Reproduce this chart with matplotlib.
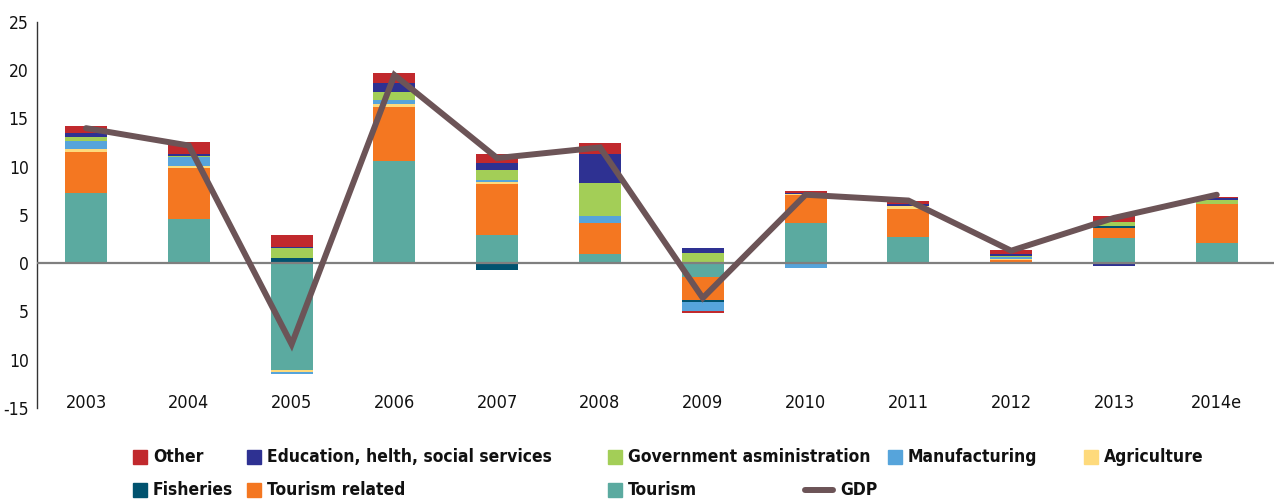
import matplotlib
matplotlib.use("Agg")
import matplotlib.pyplot as plt
from matplotlib.patches import Rectangle
from matplotlib.lines import Line2D
import numpy as np

plt.rcParams['font.family'] = ['Liberation Sans Narrow', 'DejaVu Sans']
plt.rcParams['font.stretch'] = 'condensed'

years = ['2003', '2004', '2005', '2006', '2007', '2008', '2009', '2010', '2011', '2012', '2013', '2014e']

tourism         = [7.3, 4.6, -11.05, 10.6, 2.9, 1.0, -1.4, 4.15, 2.7, 0.0, 2.62, 2.05]
tourism_related = [4.2, 5.3, 0.0, 5.6, 5.35, 3.2, -2.4, 2.9, 2.95, 0.35, 1.07, 4.13]
fisheries       = [0.0, 0.0, 0.5, 0.0, -0.7, 0.0, -0.17, 0.0, 0.0, 0.0, 0.13, 0.0]
agriculture     = [0.3, 0.2, -0.2, 0.3, 0.2, 0.0, 0.0, 0.17, 0.24, 0.1, 0.0, 0.0]
manufacturing   = [0.9, 0.95, -0.25, 0.4, 0.2, 0.7, -1.03, -0.5, 0.0, 0.17, 0.0, 0.0]
government      = [0.35, 0.1, 1.03, 0.85, 1.05, 3.45, 1.1, 0.0, 0.0, 0.14, 0.48, 0.34]
education       = [0.45, 0.2, 0.2, 0.9, 0.7, 3.0, 0.52, 0.07, 0.2, 0.24, -0.3, 0.24]
other           = [0.75, 1.2, 1.15, 1.05, 0.95, 1.15, -0.2, 0.24, 0.41, 0.4, 0.62, 0.14]
gdp             = [14.0, 12.2, -8.4, 19.5, 10.9, 12.0, -3.6, 7.1, 6.5, 1.3, 4.7, 7.1]

ytick_values = [25, 20, 15, 10, 5, 0, -5, -10, -15]
ytick_labels = ['25', '20', '15', '10', '5', '0', '5', '10', '-15']

series = [
    ('Tourism', tourism, '#5BAAA0'),
    ('Tourism related', tourism_related, '#F47721'),
    ('Fisheries', fisheries, '#01536F'),
    ('Agriculture', agriculture, '#FEDA7C'),
    ('Manufacturing', manufacturing, '#56A4DB'),
    ('Government asministration', government, '#A3CE57'),
    ('Education, helth, social services', education, '#2E3192'),
    ('Other', other, '#C1292D'),
]
gdp_color = '#6C5457'

fig = plt.figure(figsize=(12.74, 5.01), dpi=100)
ax = fig.add_axes([37/1274, 1-408/501, 1-37/1274, (408-22)/501])

x = np.arange(len(years))
pos_bottom = np.zeros(len(years))
neg_bottom = np.zeros(len(years))
width = 0.41
for name, vals, col in series:
    v = np.array(vals, dtype=float)
    bottoms = np.where(v >= 0, pos_bottom, neg_bottom)
    ax.bar(x, v, width, bottom=bottoms, color=col, linewidth=0, zorder=2)
    pos_bottom = pos_bottom + np.where(v > 0, v, 0)
    neg_bottom = neg_bottom + np.where(v < 0, v, 0)

ax.axhline(0, color='#7F7F7F', linewidth=1.6, zorder=3)
ax.plot(x, gdp, color=gdp_color, linewidth=4.3, zorder=4, solid_capstyle='round', solid_joinstyle='miter')

ax.set_xlim(-0.477, 11.557)
ax.set_ylim(-15, 25)
ax.set_yticks(ytick_values)
ax.set_yticklabels(ytick_labels, fontsize=12.5, color='#111111')
ax.set_xticks(x)
ax.set_xticklabels(years, fontsize=13, color='#111111')
ax.tick_params(axis='x', length=0, pad=-10)
ax.tick_params(axis='y', length=0, pad=6)
for s in ['top', 'right', 'bottom']:
    ax.spines[s].set_visible(False)
ax.spines['left'].set_color('#333333')
ax.spines['left'].set_linewidth(1.0)

# legend (manual layout)
W, H = 1274, 501
def sq(xpx, ypx, col):
    fig.patches.append(Rectangle((xpx/W, 1-(ypx+7)/H), 14/W, 14/H, transform=fig.transFigure, color=col, figure=fig))
def txt(xpx, ypx, s):
    fig.text(xpx/W, 1-ypx/H, s, fontsize=12.5, fontweight='bold', va='center', ha='left', color='#111111')

cols = {n: c for n, v, c in series}
row1 = [(133, 'Other'), (247, 'Education, helth, social services'), (608, 'Government asministration'),
        (888, 'Manufacturing'), (1084, 'Agriculture')]
row2 = [(133, 'Fisheries'), (247, 'Tourism related'), (608, 'Tourism')]
for xp, n in row1:
    sq(xp, 457, cols[n]); txt(xp + 20, 457, n)
for xp, n in row2:
    sq(xp, 490, cols[n]); txt(xp + 20, 490, n)
fig.lines.append(Line2D([805/W, 833/W], [1-490/H, 1-490/H], transform=fig.transFigure, color=gdp_color, linewidth=4.3, solid_capstyle='round', figure=fig))
txt(840, 490, 'GDP')

fig.savefig('out.png', dpi=100)
